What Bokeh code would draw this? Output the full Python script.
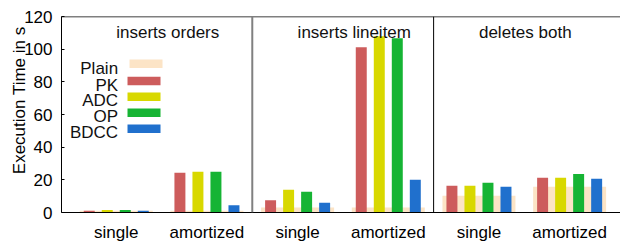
from bokeh.plotting import figure
from bokeh.models import Range1d, FixedTicker, Span, Label, ColumnDataSource
from bokeh.transform import dodge
from bokeh.embed import file_html
from bokeh.resources import INLINE

# ---- data ----
groups = ["single", "amortized", "single", "amortized", "single", "amortized"]
panels = ["inserts orders", "inserts lineitem", "deletes both"]
series_names = ["Plain", "PK", "ADC", "OP", "BDCC"]
plain = [1.0, 1.0, 3.0, 3.0, 10.3, 15.8]
pk = [1.0, 24.4, 7.5, 101.2, 16.4, 21.2]
adc = [1.6, 25.0, 13.9, 107.9, 16.4, 21.2]
op = [1.6, 25.0, 12.7, 106.7, 18.2, 23.6]
bdcc = [1.0, 4.4, 6.0, 20.0, 15.8, 20.6]
yticks = [0, 20, 40, 60, 80, 100, 120]
ylabel = "Execution Time in s"

colors = {"Plain": "#FCE4C6", "PK": "#CD5C5C", "ADC": "#D8D800",
          "OP": "#16B434", "BDCC": "#2070CD"}
FONT = "Liberation Sans"
FS = "17px"

xpos = list(range(len(groups)))
src = ColumnDataSource(dict(x=xpos, Plain=plain, PK=pk, ADC=adc, OP=op, BDCC=bdcc))

p = figure(width=620, height=244, output_backend="svg", toolbar_location=None,
           x_range=Range1d(-0.604, 5.561), y_range=Range1d(0, 120),
           min_border_left=61, min_border_right=0, min_border_top=16,
           min_border_bottom=31)
p.outline_line_color = None
p.background_fill_color = "white"
p.border_fill_color = "white"
p.xgrid.visible = False
p.ygrid.visible = False

# bars
p.vbar(x="x", top="Plain", width=0.805, bottom=0, source=src,
       color=colors["Plain"], line_color=None)
offsets = {"PK": -0.298, "ADC": -0.0993, "OP": 0.0993, "BDCC": 0.298}
for name, off in offsets.items():
    p.vbar(x=dodge("x", off, range=p.x_range), top=name, width=0.121, bottom=0,
           source=src, color=colors[name], line_color=None)

# axes
yax = p.yaxis[0]
yax.ticker = FixedTicker(ticks=yticks)
yax.minor_tick_line_color = None
yax.major_tick_in = 3
yax.major_tick_out = 0
yax.major_label_standoff = 9
yax.major_label_text_font = FONT
yax.major_label_text_font_size = FS
yax.major_label_text_color = "black"
yax.axis_line_color = "black"
yax.axis_label = "\u00a0" * 6 + ylabel
yax.axis_label_text_font = FONT
yax.axis_label_text_font_size = FS
yax.axis_label_text_font_style = "normal"
yax.axis_label_text_color = "black"
yax.axis_label_standoff = -8

xax = p.xaxis[0]
xax.ticker = FixedTicker(ticks=xpos)
xax.major_label_overrides = {i: g for i, g in enumerate(groups)}
xax.minor_tick_line_color = None
xax.major_tick_in = 0
xax.major_tick_out = 0
xax.major_label_standoff = 10
xax.major_label_text_font = FONT
xax.major_label_text_font_size = FS
xax.major_label_text_color = "black"
xax.axis_line_color = "black"

# frame lines
p.add_layout(Span(location=120, dimension="width", line_color="black", line_width=1.5))
p.add_layout(Span(location=1.5, dimension="height", line_color="#808080", line_width=2))
p.add_layout(Span(location=3.5, dimension="height", line_color="black", line_width=1))

# panel titles
for i, t in enumerate(panels):
    p.add_layout(Label(x=2 * i, y=110, text=t, text_align="left",
                       text_baseline="alphabetic", text_font=FONT,
                       text_font_size=FS, text_color="#111111"))

# legend (manual, gnuplot style: label left, swatch right)
leg_y = [91.0, 80.5, 70.9, 61.1, 51.3]
for name, yy in zip(series_names, leg_y):
    x0 = 0.146 if name == "Plain" else 0.124
    p.quad(left=x0, right=x0 + 0.364, bottom=yy - 2.6, top=yy + 2.6,
           color=colors[name], line_color=None)
    p.add_layout(Label(x=0.02, y=yy - 2.6, text=name, text_align="right",
                       text_baseline="alphabetic", text_font=FONT,
                       text_font_size=FS, text_color="#111111"))

open("out.html", "w").write(file_html(p, INLINE))
